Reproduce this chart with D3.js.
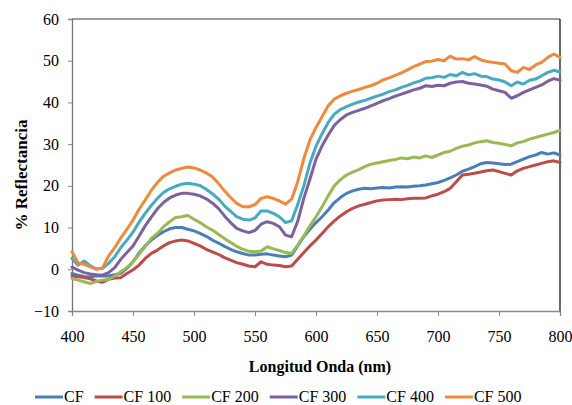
<!DOCTYPE html>
<html>
<head>
<meta charset="utf-8">
<script src="https://cdn.jsdelivr.net/npm/d3@7"></script>
<style>
  html, body { margin: 0; padding: 0; background: #fff; }
  svg { display: block; }
</style>
</head>
<body>
<svg id="chart" width="572" height="405"></svg>
<script>
// ---- DATA ----
const wavelengths = d3.range(400, 801, 5);
const seriesNames = ["CF", "CF 100", "CF 200", "CF 300", "CF 400", "CF 500"];
const seriesColors = ["#4A7EBB", "#BE4B48", "#98B954", "#7D60A0", "#46AAC5", "#F0893B"];
const xTicks = [400, 450, 500, 550, 600, 650, 700, 750, 800];
const yTicks = [-10, 0, 10, 20, 30, 40, 50, 60];

const cf = [-1.0,-1.4,-1.7,-1.8,-1.6,-1.6,-1.6,-1.3,-1.0,0.2,1.8,3.9,5.6,7.0,8.1,9.0,9.7,10.0,10.0,9.6,9.2,8.6,7.9,7.0,6.3,5.5,4.8,4.2,3.8,3.4,3.4,3.6,3.7,3.4,3.2,3.0,3.4,5.6,7.8,9.6,11.2,12.6,14.2,16.0,17.2,18.2,18.8,19.2,19.4,19.3,19.5,19.6,19.5,19.7,19.8,19.7,19.9,20.0,20.2,20.5,20.8,21.3,21.9,22.6,23.5,24.0,24.6,25.3,25.6,25.5,25.3,25.1,25.2,25.8,26.4,27.0,27.4,28.0,27.6,27.9,27.4];
const cf100 = [-1.6,-1.8,-2.0,-2.3,-2.8,-3.1,-2.4,-2.1,-2.0,-1.0,-0.1,1.0,2.6,3.8,4.6,5.6,6.4,6.8,7.0,6.8,6.2,5.6,4.8,4.2,3.6,2.8,2.2,1.6,1.2,0.8,0.6,1.8,1.2,1.0,0.9,0.6,0.8,2.4,4.0,5.6,7.0,8.6,10.2,11.6,12.8,13.8,14.6,15.2,15.6,16.0,16.4,16.6,16.7,16.8,16.7,16.9,17.0,17.0,17.1,17.6,18.0,18.6,19.4,21.0,22.6,22.8,23.0,23.3,23.6,23.8,23.4,23.0,22.6,23.6,24.2,24.6,25.0,25.4,25.8,26.0,25.6];
const cf200 = [-2.2,-2.6,-3.0,-3.4,-2.9,-2.6,-2.4,-1.6,-0.6,0.4,1.8,3.6,5.4,7.4,8.6,10.2,11.4,12.4,12.6,12.9,12.0,11.2,10.2,9.4,8.4,7.4,6.4,5.5,4.8,4.3,4.2,4.4,5.4,4.9,4.5,4.0,3.8,5.8,8.0,10.4,12.6,15.0,17.6,20.0,21.5,22.6,23.3,23.9,24.6,25.2,25.5,25.8,26.1,26.3,26.7,26.5,26.9,26.7,27.2,26.8,27.4,28.0,28.3,29.0,29.5,29.8,30.3,30.6,30.8,30.4,30.2,29.9,29.6,30.3,30.6,31.2,31.6,32.0,32.4,32.8,33.3];
const cf300 = [0.5,-0.2,-0.8,-1.1,-1.3,-1.4,-0.8,0.4,2.4,4.0,5.6,8.0,10.4,12.5,14.5,16.0,17.1,17.8,18.2,18.2,18.0,17.6,16.9,15.9,14.6,12.8,11.2,9.8,9.2,8.8,9.3,10.8,11.4,11.0,10.2,8.2,7.8,11.5,17.0,21.6,26.4,29.6,32.2,34.5,35.9,37.0,37.6,38.1,38.6,39.2,39.8,40.4,40.9,41.5,42.0,42.5,43.0,43.4,44.0,43.8,44.1,44.0,44.6,44.9,45.0,44.6,44.4,44.2,43.9,43.2,42.8,42.4,41.0,41.6,42.4,43.0,43.6,44.2,45.1,45.7,45.3];
const cf400 = [2.6,1.0,2.0,0.8,0.1,0.2,1.4,3.0,5.2,7.0,8.9,11.3,13.4,15.3,17.0,18.4,19.3,19.9,20.4,20.6,20.4,20.1,19.2,18.1,16.9,15.2,13.9,12.6,12.0,11.8,12.3,14.0,14.0,13.4,12.6,11.2,11.6,15.5,20.0,25.4,29.5,32.5,35.2,37.2,38.3,39.0,39.6,40.1,40.5,41.0,41.5,42.0,42.6,43.0,43.6,44.1,44.7,45.1,45.8,45.9,46.3,46.0,46.7,46.4,47.2,46.6,46.9,46.3,46.2,45.6,45.4,44.9,44.0,44.9,44.4,45.3,45.6,46.4,47.2,47.7,47.3];
const cf500 = [4.2,1.5,1.2,0.6,0.0,0.3,3.2,5.2,7.5,9.6,11.8,14.4,16.6,18.9,20.8,22.3,23.1,23.8,24.2,24.5,24.3,23.8,23.1,22.2,20.6,18.8,17.2,15.8,15.0,15.0,15.5,17.0,17.4,17.0,16.4,15.6,16.8,21.0,26.5,31.0,34.0,36.6,39.2,40.8,41.6,42.2,42.7,43.1,43.6,44.0,44.6,45.4,45.9,46.5,47.1,47.8,48.6,49.2,49.8,49.9,50.3,50.0,51.1,50.4,50.5,50.2,51.0,50.2,49.8,49.6,49.4,49.2,47.6,47.2,48.4,47.9,49.0,49.6,50.8,51.6,50.8];

const seriesValues = [cf, cf100, cf200, cf300, cf400, cf500];

// ---- CHART ----
const svg = d3.select("#chart");
const mLeft = 72, mRight = 560, mTop = 19, mBottom = 311;
const x = d3.scaleLinear().domain([400, 800]).range([mLeft, mRight]);
const y = d3.scaleLinear().domain([-10, 60]).range([mBottom, mTop]);
const FONT = "'Liberation Serif', 'Times New Roman', serif";

// plot border (top & right)
svg.append("line").attr("x1", mLeft).attr("x2", mRight).attr("y1", mTop).attr("y2", mTop)
  .attr("stroke", "#7a7a7a").attr("stroke-width", 1.3);
svg.append("line").attr("x1", mRight).attr("x2", mRight).attr("y1", mTop).attr("y2", mBottom)
  .attr("stroke", "#1a1a1a").attr("stroke-width", 1.3);

// y axis
const yAxis = svg.append("g").attr("transform", `translate(${mLeft},0)`)
  .call(d3.axisLeft(y).tickValues(yTicks).tickSize(4).tickPadding(9).tickFormat(d3.format("d")));
yAxis.select(".domain").attr("stroke", "#777").attr("stroke-width", 1.3);
yAxis.selectAll(".tick line").attr("stroke", "#888");
yAxis.selectAll("text").attr("font-family", FONT).attr("font-size", 16).attr("fill", "#000");

// x axis
const xAxis = svg.append("g").attr("transform", `translate(0,${mBottom})`)
  .call(d3.axisBottom(x).tickValues(xTicks).tickSize(5).tickFormat(d3.format("d")));
xAxis.select(".domain").attr("stroke", "#888").attr("stroke-width", 1.3);
xAxis.selectAll(".tick line").attr("stroke", "#888");
xAxis.selectAll("text").attr("font-family", FONT).attr("font-size", 16).attr("fill", "#000")
  .attr("y", 31).attr("dy", 0);

// lines
const line = d3.line()
  .x((d, i) => x(wavelengths[i]))
  .y(d => y(d));

seriesValues.forEach((vals, k) => {
  svg.append("path")
    .datum(vals)
    .attr("fill", "none")
    .attr("stroke", seriesColors[k])
    .attr("stroke-width", 3)
    .attr("stroke-linejoin", "round")
    .attr("stroke-linecap", "round")
    .attr("d", line);
});

// axis titles
svg.append("text")
  .attr("transform", "translate(27,175) rotate(-90)")
  .attr("text-anchor", "middle")
  .attr("font-family", FONT).attr("font-weight", "bold").attr("font-size", 17)
  .text("% Reflectancia");

svg.append("text")
  .attr("x", 320).attr("y", 372)
  .attr("text-anchor", "middle")
  .attr("font-family", FONT).attr("font-weight", "bold").attr("font-size", 16)
  .text("Longitud Onda (nm)");

// legend
const legend = svg.append("g");
let lx = 35;
seriesNames.forEach((name, k) => {
  const g = legend.append("g");
  g.append("line").attr("x1", lx).attr("x2", lx + 28).attr("y1", 397).attr("y2", 397)
    .attr("stroke", seriesColors[k]).attr("stroke-width", 3);
  const t = g.append("text").attr("x", lx + 29).attr("y", 402)
    .attr("font-family", FONT).attr("font-size", 16).text(name);
  const w = t.node().getComputedTextLength();
  lx += 28 + 1 + w + 11;
});
</script>
</body>
</html>
